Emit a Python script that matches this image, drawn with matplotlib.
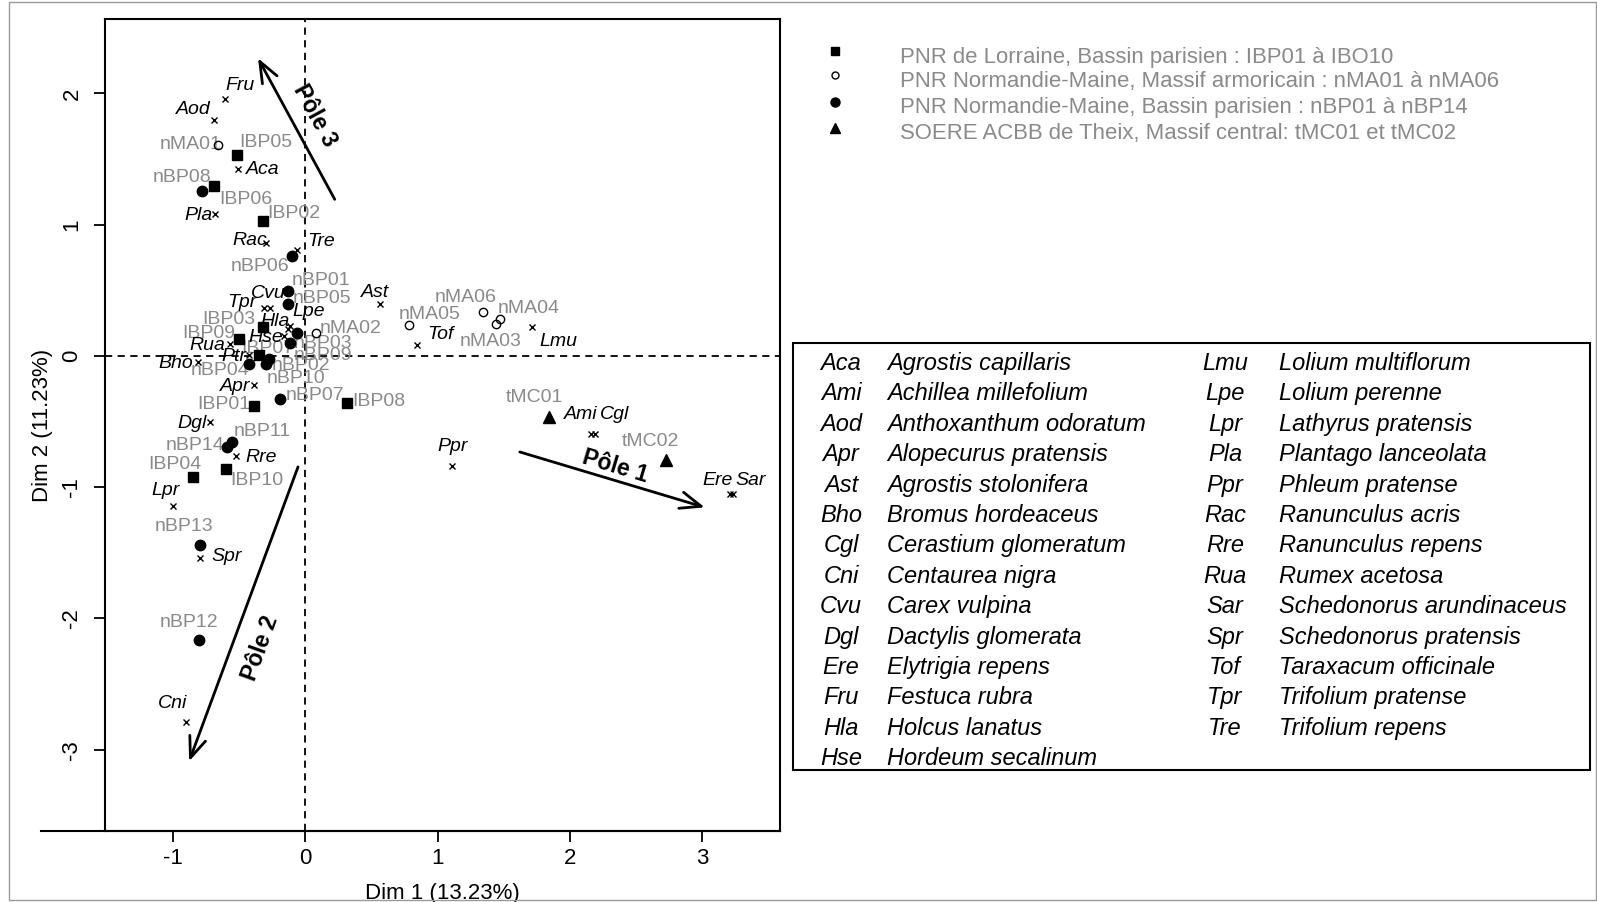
import matplotlib
matplotlib.use("Agg")
import matplotlib.pyplot as plt
from matplotlib.patches import Rectangle

plt.rcParams['font.family'] = ['Liberation Sans', 'DejaVu Sans']
plt.rcParams['axes.unicode_minus'] = False

# sites, PNR de Lorraine (Bassin parisien)
ibp_names = ["IBP01", "IBP02", "IBP03", "IBP04", "IBP05", "IBP06", "IBP07", "IBP08", "IBP09", "IBP10"]
ibp_x = [-0.385, -0.317, -0.314, -0.845, -0.515, -0.689, -0.349, 0.317, -0.502, -0.598]
ibp_y = [-0.382, 1.025, 0.222, -0.919, 1.532, 1.297, 0.004, -0.361, 0.131, -0.858]

# sites, PNR Normandie-Maine (Massif armoricain)
nma_names = ["nMA01", "nMA02", "nMA03", "nMA04", "nMA05", "nMA06"]
nma_x = [-0.656, 0.086, 1.439, 1.469, 0.785, 1.343]
nma_y = [1.608, 0.176, 0.245, 0.283, 0.232, 0.336]

# sites, PNR Normandie-Maine (Bassin parisien)
nbp_names = ["nBP01", "nBP02", "nBP03", "nBP04", "nBP05", "nBP06", "nBP07",
             "nBP08", "nBP09", "nBP10", "nBP11", "nBP12", "nBP13", "nBP14"]
nbp_x = [-0.125, -0.27, -0.057, -0.423, -0.125, -0.095, -0.191,
         -0.777, -0.115, -0.297, -0.549, -0.804, -0.796, -0.586]
nbp_y = [0.493, -0.021, 0.176, -0.065, 0.392, 0.759, -0.326,
         1.259, 0.10, -0.059, -0.655, -2.161, -1.441, -0.693]

# sites, SOERE ACBB de Theix
tmc_names = ["tMC01", "tMC02"]
tmc_x = [1.843, 2.722]
tmc_y = [-0.468, -0.792]

# species
sp_names = ["Aca", "Ami", "Aod", "Apr", "Ast", "Bho", "Cgl", "Cni", "Cvu", "Dgl",
            "Ere", "Fru", "Hla", "Hse", "Lmu", "Lpe", "Lpr", "Pla", "Ppr", "Ptr",
            "Rac", "Rre", "Rua", "Sar", "Spr", "Tof", "Tpr", "Tre"]
sp_x = [-0.503, 2.16, -0.689, -0.385, 0.569, -0.808, 2.19, -0.895, -0.262, -0.714,
        3.205, -0.601, -0.128, -0.161, 1.713, -0.115, -1.0, -0.683, 1.112, -0.423,
        -0.297, -0.523, -0.568, 3.23, -0.795, 0.848, -0.312, -0.06]
sp_y = [1.423, -0.597, 1.798, -0.222, 0.392, -0.044, -0.597, -2.789, 0.366, -0.503,
        -1.053, 1.956, 0.207, 0.148, 0.219, 0.225, -1.147, 1.081, -0.838, 0.006,
        0.861, -0.762, 0.093, -1.053, -1.542, 0.08, 0.366, 0.805]

# poles (arrows): tail and head
pole_names = ["Pôle 1", "Pôle 2", "Pôle 3"]
pole_x0 = [1.621, -0.053, 0.224]
pole_y0 = [-0.732, -0.846, 1.193]
pole_x1 = [3.017, -0.875, -0.355]
pole_y1 = [-1.154, -3.089, 2.268]

group_labels = ["PNR de Lorraine, Bassin parisien : IBP01 à IBO10",
                "PNR Normandie-Maine, Massif armoricain : nMA01 à nMA06",
                "PNR Normandie-Maine, Bassin parisien : nBP01 à nBP14",
                "SOERE ACBB de Theix, Massif central: tMC01 et tMC02"]

legend_abbr1 = ["Aca", "Ami", "Aod", "Apr", "Ast", "Bho", "Cgl", "Cni", "Cvu", "Dgl",
                "Ere", "Fru", "Hla", "Hse"]
legend_full1 = ["Agrostis capillaris", "Achillea millefolium", "Anthoxanthum odoratum",
                "Alopecurus pratensis", "Agrostis stolonifera", "Bromus hordeaceus",
                "Cerastium glomeratum", "Centaurea nigra", "Carex vulpina",
                "Dactylis glomerata", "Elytrigia repens", "Festuca rubra",
                "Holcus lanatus", "Hordeum secalinum"]
legend_abbr2 = ["Lmu", "Lpe", "Lpr", "Pla", "Ppr", "Rac", "Rre", "Rua", "Sar", "Spr",
                "Tof", "Tpr", "Tre"]
legend_full2 = ["Lolium multiflorum", "Lolium perenne", "Lathyrus pratensis",
                "Plantago lanceolata", "Phleum pratense", "Ranunculus acris",
                "Ranunculus repens", "Rumex acetosa", "Schedonorus arundinaceus",
                "Schedonorus pratensis", "Taraxacum officinale", "Trifolium pratense",
                "Trifolium repens"]

# label offsets in pixels (dx, dy)
site_offsets = {
    "IBP01": (-30, 4), "IBP02": (31, 10), "IBP03": (-35, 10), "IBP04": (-18, 15),
    "IBP05": (29, 15), "IBP06": (32, -11), "IBP07": (9, 9), "IBP08": (32, 4),
    "IBP09": (-30, 8), "IBP10": (31, -9),
    "nMA01": (-28, 3), "nMA02": (34, 7), "nMA03": (-5, -15), "nMA04": (29, 13),
    "nMA05": (21, 13), "nMA06": (-17, 17),
    "nBP01": (33, 13), "nBP02": (32, -4), "nBP03": (26, -8), "nBP04": (-29, -4),
    "nBP05": (34, 8), "nBP06": (-32, -8), "nBP07": (35, 6), "nBP08": (-20, 16),
    "nBP09": (33, -10), "nBP10": (30, -12), "nBP11": (30, 13), "nBP12": (-10, 20),
    "nBP13": (-16, 21), "nBP14": (-32, 4),
    "tMC01": (-15, 22), "tMC02": (-15, 21),
}
sp_offsets = {
    "Aca": (24, 2), "Ami": (-10, 22), "Aod": (-20, 13), "Apr": (-19, 1), "Ast": (-5, 14),
    "Bho": (-22, 1), "Cgl": (19, 22), "Cni": (-14, 21), "Cvu": (-2, 17), "Dgl": (-18, 1),
    "Ere": (-12, 16), "Fru": (15, 16), "Hla": (-13, 10), "Hse": (-18, 1), "Lmu": (26, -12),
    "Lpe": (19, 17), "Lpr": (-7, 18), "Pla": (-16, 1), "Ppr": (0, 22), "Ptr": (-15, 1),
    "Rac": (-16, 5), "Rre": (25, 1), "Rua": (-22, 1), "Sar": (18, 16), "Spr": (27, 4),
    "Tof": (23, 13), "Tpr": (-22, 8), "Tre": (24, 11),
}
pole_label_pos = [(2.337, -0.844, -16.7), (-0.337, -2.23, 70), (0.07, 1.83, -61.5)]

W, H = 1597, 902
grey = '#8a8a8a'
fs = 14
shift = -2.5

fig = plt.figure(figsize=(W / 100, H / 100), dpi=100)
ax = fig.add_axes([104.6 / W, (H - 831) / H, 675 / W, 812 / H])
ax.set_xlim(-1.513, 3.582)
ax.set_ylim(-3.62, 2.567)

ax.axhline(0, color='black', lw=1.3, ls=(0, (4, 3)), zorder=1)
ax.axvline(0, color='black', lw=1.3, ls=(0, (4, 3)), zorder=1)

# labels first, markers over them
for names, xs, ys in [(ibp_names, ibp_x, ibp_y), (nma_names, nma_x, nma_y),
                      (nbp_names, nbp_x, nbp_y), (tmc_names, tmc_x, tmc_y)]:
    for n, x, y in zip(names, xs, ys):
        dx, dy = site_offsets[n]
        ax.annotate(n, (x, y), xytext=(dx, dy + shift), textcoords='offset pixels',
                    ha='center', va='center', fontsize=fs, color=grey, zorder=2)
for n, x, y in zip(sp_names, sp_x, sp_y):
    dx, dy = sp_offsets[n]
    ax.annotate(n, (x, y), xytext=(dx, dy + shift), textcoords='offset pixels',
                ha='center', va='center', fontsize=fs, color='black',
                style='italic', zorder=3)

ax.plot(ibp_x, ibp_y, 's', color='black', ms=7.5, ls='none', zorder=4)
ax.plot(nbp_x, nbp_y, 'o', color='black', ms=7.5, ls='none', zorder=4)
ax.plot(nma_x, nma_y, 'o', mfc='none', mec='black', mew=1, ms=6, ls='none', zorder=4)
ax.plot(tmc_x, tmc_y, '^', color='black', ms=8, ls='none', zorder=4)
ax.plot(sp_x, sp_y, 'x', color='black', ms=5, mew=1, ls='none', zorder=4)

# poles
for i in range(3):
    ax.annotate('', xy=(pole_x1[i], pole_y1[i]), xytext=(pole_x0[i], pole_y0[i]),
                arrowprops=dict(arrowstyle='->,head_length=1.5,head_width=0.6',
                                lw=2, color='black', mutation_scale=10,
                                shrinkA=0, shrinkB=0), zorder=5)
    px, py, rot = pole_label_pos[i]
    ax.text(px, py, pole_names[i], rotation=rot, rotation_mode='anchor',
            ha='center', va='center', fontsize=16.5, fontweight='bold', zorder=5)

ax.set_xticks([-1, 0, 1, 2, 3])
ax.set_yticks([-3, -2, -1, 0, 1, 2])
ax.tick_params(direction='out', length=8, width=1.3, labelsize=16)
ax.tick_params(axis='x', pad=4)
ax.tick_params(axis='y', labelrotation=90, pad=8)
for t in ax.get_yticklabels():
    t.set_va('center')
for s in ax.spines.values():
    s.set_linewidth(1.5)

ax.set_xlabel("Dim 1 (13.23%)", fontsize=16, va='center')
ax.set_ylabel("Dim 2 (11.23%)", fontsize=16, va='center')
ax.xaxis.set_label_coords(0.5, -62 / 812)
ax.yaxis.set_label_coords((43 - 104.6) / 675, 0.5)

# overlay in pixel coordinates for legends and frame
lax = fig.add_axes([0, 0, 1, 1])
lax.set_xlim(0, W)
lax.set_ylim(H, 0)
lax.axis('off')

lax.add_patch(Rectangle((9, 2), W - 10, H - 4, fill=False, ec='#9a9a9a', lw=1))
lax.plot([41, 779.6], [831, 831], color='black', lw=1.5)

row_y = [57, 81.5, 107, 133.5]
mk_y = [51, 75, 102, 128]
lax.plot(835, mk_y[0], 's', color='black', ms=6)
lax.plot(835, mk_y[1], 'o', mfc='none', mec='black', mew=1, ms=5)
lax.plot(835, mk_y[2], 'o', color='black', ms=6.5)
lax.plot(835, mk_y[3], '^', color='black', ms=6.5)
for lab, y in zip(group_labels, row_y):
    lax.text(900, y, lab, fontsize=15.9, color=grey, ha='left', va='center')

lax.add_patch(Rectangle((793, 343), 797, 427, fill=False, ec='black', lw=1.5))
y0, dy = 363.5, 30.4
for i, (a, f) in enumerate(zip(legend_abbr1, legend_full1)):
    lax.text(841, y0 + i * dy, a, fontsize=17, style='italic', ha='center', va='center')
    lax.text(887, y0 + i * dy, f, fontsize=17, style='italic', ha='left', va='center')
for i, (a, f) in enumerate(zip(legend_abbr2, legend_full2)):
    lax.text(1225, y0 + i * dy, a, fontsize=17, style='italic', ha='center', va='center')
    lax.text(1279, y0 + i * dy, f, fontsize=17, style='italic', ha='left', va='center')

fig.savefig("out.png", dpi=100)
